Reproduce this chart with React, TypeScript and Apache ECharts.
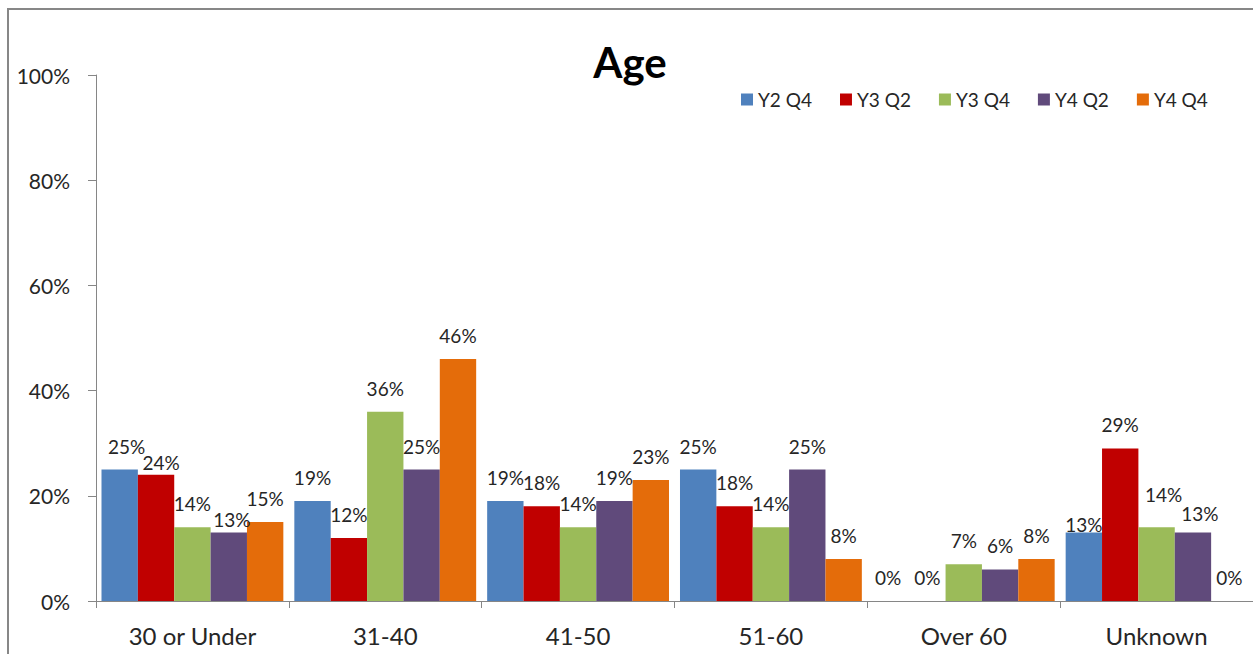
import React, { useEffect, useRef } from "react";
import * as echarts from "echarts";

const categories = ["30 or Under", "31-40", "41-50", "51-60", "Over 60", "Unknown"];
const seriesNames = ["Y2 Q4", "Y3 Q2", "Y3 Q4", "Y4 Q2", "Y4 Q4"];
const seriesColors = ["#4F81BD", "#C00000", "#9BBB59", "#604A7B", "#E46C0A"];

// percent values per series, one entry per age band
const y2q4 = [25, 19, 19, 25, 0, 13];
const y3q2 = [24, 12, 18, 18, 0, 29];
const y3q4 = [14, 36, 14, 14, 7, 14];
const y4q2 = [13, 25, 19, 25, 6, 13];
const y4q4 = [15, 46, 23, 8, 8, 0];
const seriesValues = [y2q4, y3q2, y3q4, y4q2, y4q4];

const yTicks = [0, 20, 40, 60, 80, 100];

// hand-placed label nudges [dx, dy] keyed by "series:category"
const labelNudges: Record<string, [number, number]> = {
  "0:0": [7, 0],
  "1:0": [5, 11],
  "3:0": [3, 10],
  "0:4": [-3, 0],
  "0:5": [0, 15],
  "2:5": [7, -9],
  "3:5": [7, 4],
};

const FONT = "Lato, 'Open Sans', sans-serif";
const TEXT = "#262626";
const AXIS = "#868686";

export default function App() {
  const ref = useRef<HTMLDivElement>(null);

  useEffect(() => {
    if (!ref.current) return;
    const chart = echarts.init(ref.current, null, { renderer: "svg" });

    const series = seriesNames.map((name, si) => ({
      name,
      type: "bar" as const,
      barGap: "0%",
      barCategoryGap: "5.7%",
      itemStyle: { color: seriesColors[si] },
      label: {
        show: true,
        position: "top" as const,
        distance: 14,
        formatter: "{c}%",
        fontFamily: FONT,
        fontSize: 19,
        color: TEXT,
      },
      data: seriesValues[si].map((v, ci) => {
        const nudge = labelNudges[`${si}:${ci}`];
        return nudge ? { value: v, label: { offset: nudge } } : v;
      }),
    }));

    chart.setOption({
      animation: false,
      textStyle: { fontFamily: FONT },
      graphic: [
        {
          type: "rect",
          shape: { x: 8, y: 9, width: 1400, height: 800 },
          style: { fill: "none", stroke: "#878787", lineWidth: 2 },
          silent: true,
        },
        {
          type: "text",
          x: 630,
          y: 62,
          style: {
            text: "Age",
            fontFamily: FONT,
            fontSize: 42,
            fontWeight: "bold",
            fill: "#000",
            textAlign: "center",
            textVerticalAlign: "middle",
          },
        },
      ],
      legend: {
        data: seriesNames,
        left: 741,
        top: 90,
        padding: 0,
        icon: "rect",
        itemWidth: 12,
        itemHeight: 12,
        itemGap: 28,
        textStyle: { fontFamily: FONT, fontSize: 19, color: TEXT },
      },
      grid: { left: 96, top: 75, width: 1164, height: 526, containLabel: false },
      xAxis: {
        type: "category",
        data: categories,
        boundaryGap: true,
        axisLine: { lineStyle: { color: AXIS, width: 1 } },
        axisTick: { show: true, interval: 0, length: 7, lineStyle: { color: AXIS } },
        axisLabel: { interval: 0, margin: 22, fontFamily: FONT, fontSize: 24, color: TEXT },
      },
      yAxis: {
        type: "value",
        min: yTicks[0],
        max: yTicks[yTicks.length - 1],
        interval: 20,
        splitLine: { show: false },
        axisLine: { show: true, lineStyle: { color: AXIS, width: 1 } },
        axisTick: { show: true, length: 8, lineStyle: { color: AXIS } },
        axisLabel: {
          margin: 26,
          formatter: "{value}%",
          fontFamily: FONT,
          fontSize: 21,
          color: TEXT,
        },
      },
      series,
    });

    return () => chart.dispose();
  }, []);

  return (
    <div
      ref={ref}
      style={{ position: "absolute", left: 0, top: 0, width: 1253, height: 654, background: "#fff" }}
    />
  );
}
